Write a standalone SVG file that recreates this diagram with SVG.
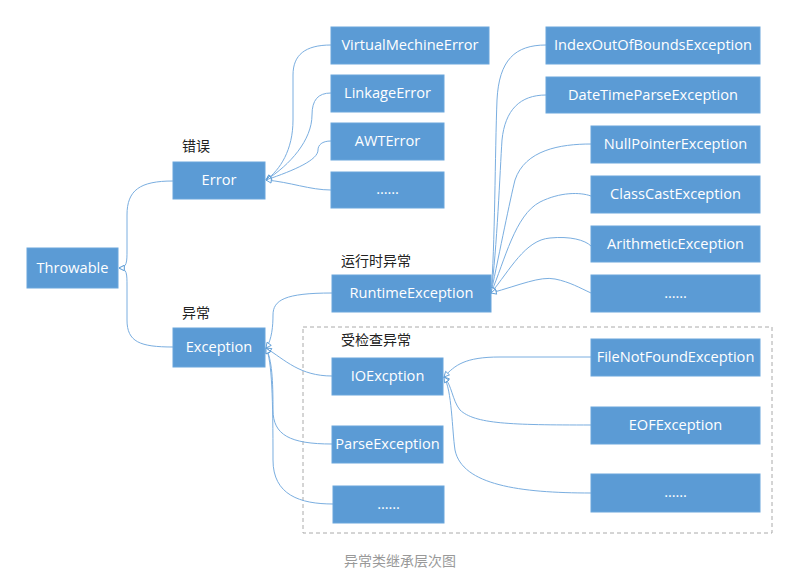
<svg xmlns="http://www.w3.org/2000/svg" width="788" height="585" viewBox="0 0 788 585">
<style>
.box{fill:#5b9bd5;stroke:#6aa6dc;stroke-width:1}
.t{font-family:"Open Sans","Noto Sans",sans-serif;font-size:14.6px;fill:#fff;text-anchor:middle}
.lbl{font-family:"Noto Sans CJK SC","Noto Sans",sans-serif;font-size:14px;fill:#222}
.cap{font-family:"Noto Sans CJK SC","Noto Sans",sans-serif;font-size:14px;fill:#999;text-anchor:middle}
.c{fill:none;stroke:#7aaee0;stroke-width:1;marker-start:url(#tri)}
</style>
<defs>
<marker id="tri" viewBox="0 0 8 8" refX="7" refY="4" markerWidth="7" markerHeight="7" markerUnits="userSpaceOnUse" orient="auto-start-reverse">
<path d="M1,1 L7,4 L1,7 z" fill="#fff" stroke="#5b9bd5" stroke-width="1"/>
</marker>
</defs>
<rect width="788" height="585" fill="#fff"/>
<rect x="303" y="327" width="469" height="206" fill="none" stroke="#aaa" stroke-width="1" stroke-dasharray="4,3"/>
<g id="connectors">
<path class="c" d="M119,268 C127,268 127,262 127,250 L127,215 C127,190 140,181 173,181"/>
<path class="c" d="M119,268 C127,268 127,274 127,286 L127,320 C127,342 140,347 173,347"/>
<path class="c" d="M266,180 C280,170 293,150 293,120 L293,75 C293,55 305,45 331,45"/>
<path class="c" d="M266,180 C290,165 312,140 312,115 C312,100 318,93 331,93"/>
<path class="c" d="M266,180 C295,170 318,160 318,150 C318,145 322,141 331,141"/>
<path class="c" d="M266,180 C290,182 310,190 331,190"/>
<path class="c" d="M491,293 C495,250 495,150 497,100 C499,60 515,45 546,45"/>
<path class="c" d="M491,293 C497,250 500,170 502,140 C505,110 520,95 546,95"/>
<path class="c" d="M491,293 C500,250 510,200 515,180 C525,150 560,144 591,144"/>
<path class="c" d="M491,293 C505,260 515,215 540,202 C560,192 580,192 591,196"/>
<path class="c" d="M491,293 C510,270 525,240 550,238 C570,236 585,240 591,246"/>
<path class="c" d="M491,293 C520,285 540,276 555,279 C570,282 580,288 591,293"/>
<path class="c" d="M266,348 C272,340 273,325 273,315 C273,300 285,293 332,293"/>
<path class="c" d="M266,348 C285,360 300,376 332,376"/>
<path class="c" d="M266,348 C272,360 273,380 273,410 C273,435 290,444 332,444"/>
<path class="c" d="M266,348 C272,360 273,400 273,460 C273,495 300,504 333,504"/>
<path class="c" d="M444,377 C455,365 465,357 500,357 L591,357"/>
<path class="c" d="M444,377 C452,385 452,400 460,410 C475,424 510,425 591,425"/>
<path class="c" d="M444,377 C452,390 452,430 455,450 C462,485 520,493 591,493"/>
</g>
<g id="throwable"><rect class="box" x="27" y="248" width="91" height="40"/><text class="t" x="72.5" y="273">Throwable</text></g>
<g id="error"><rect class="box" x="173" y="162" width="92" height="37"/><text class="t" x="219" y="185">Error</text><text class="lbl" x="182" y="151">错误</text></g>
<g id="exception"><rect class="box" x="173" y="328" width="92" height="39"/><text class="t" x="219" y="352">Exception</text><text class="lbl" x="182" y="318">异常</text></g>
<g id="vme"><rect class="box" x="331" y="27" width="158" height="37"/><text class="t" x="410" y="50">VirtualMechineError</text></g>
<g id="linkage"><rect class="box" x="331" y="75" width="113" height="37"/><text class="t" x="387.5" y="98">LinkageError</text></g>
<g id="awt"><rect class="box" x="331" y="123" width="113" height="37"/><text class="t" x="387.5" y="146">AWTError</text></g>
<g id="err-more"><rect class="box" x="331" y="172" width="113" height="36"/><text class="t" x="387.5" y="194">……</text></g>
<g id="runtime"><rect class="box" x="332" y="275" width="159" height="37"/><text class="t" x="411.5" y="298">RuntimeException</text><text class="lbl" x="341" y="266">运行时异常</text></g>
<g id="ioob"><rect class="box" x="546" y="27" width="214" height="37"/><text class="t" x="653" y="50">IndexOutOfBoundsException</text></g>
<g id="dtp"><rect class="box" x="546" y="77" width="214" height="36"/><text class="t" x="653" y="100">DateTimeParseException</text></g>
<g id="npe"><rect class="box" x="591" y="126" width="169" height="37"/><text class="t" x="675.5" y="149">NullPointerException</text></g>
<g id="cce"><rect class="box" x="591" y="176" width="169" height="37"/><text class="t" x="675.5" y="199">ClassCastException</text></g>
<g id="ae"><rect class="box" x="591" y="226" width="169" height="36"/><text class="t" x="675.5" y="249">ArithmeticException</text></g>
<g id="rt-more"><rect class="box" x="591" y="275" width="169" height="37"/><text class="t" x="675.5" y="298">……</text></g>
<g id="checked-label"><text class="lbl" x="341" y="345">受检查异常</text></g>
<g id="ioe"><rect class="box" x="332" y="358" width="111" height="37"/><text class="t" x="387.5" y="381">IOExcption</text></g>
<g id="parse"><rect class="box" x="332" y="426" width="111" height="37"/><text class="t" x="387.5" y="449">ParseException</text></g>
<g id="ex-more"><rect class="box" x="333" y="486" width="111" height="37"/><text class="t" x="388.5" y="509">……</text></g>
<g id="fnf"><rect class="box" x="591" y="339" width="169" height="37"/><text class="t" x="675.5" y="362">FileNotFoundException</text></g>
<g id="eof"><rect class="box" x="591" y="407" width="169" height="37"/><text class="t" x="675.5" y="430">EOFException</text></g>
<g id="io-more"><rect class="box" x="591" y="474" width="169" height="38"/><text class="t" x="675.5" y="497">……</text></g>
<text class="cap" x="400" y="566">异常类继承层次图</text>
</svg>
